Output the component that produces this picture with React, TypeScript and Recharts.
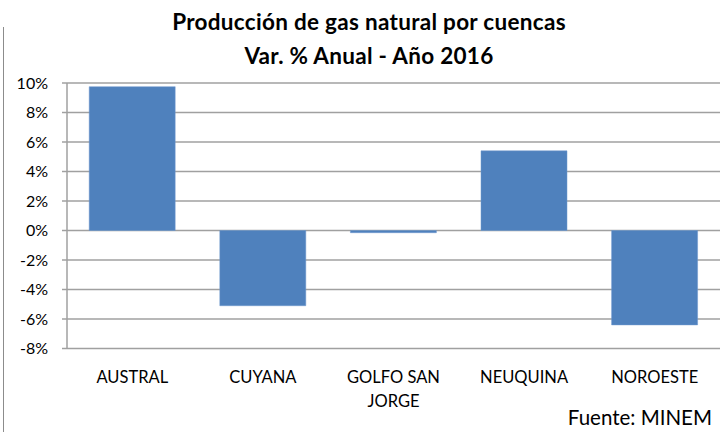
import React from "react";
import { BarChart, Bar, XAxis, YAxis, CartesianGrid } from "recharts";

const cuencas = ["AUSTRAL", "CUYANA", "GOLFO SAN JORGE", "NEUQUINA", "NOROESTE"];
const variacion = [9.75, -5.1, -0.15, 5.4, -6.4];
const yTicks = [-8, -6, -4, -2, 0, 2, 4, 6, 8, 10];

const data = cuencas.map((name, i) => ({ name, value: variacion[i] }));

const FONT = "Lato, 'Open Sans', sans-serif";

// splits "GOLFO SAN JORGE" onto two lines like the original
const CategoryTick = (props: any) => {
  const { x, y, payload } = props;
  const label: string = payload.value;
  const lines = label === "GOLFO SAN JORGE" ? ["GOLFO SAN", "JORGE"] : [label];
  return (
    <g>
      {lines.map((l, i) => (
        <text
          key={i}
          x={x}
          y={y + 26 + i * 24}
          textAnchor="middle"
          fontSize={16.5}
          fontFamily={FONT}
          fill="#000"
        >
          {l}
        </text>
      ))}
    </g>
  );
};

export default function App() {
  return (
    <div
      style={{
        position: "absolute",
        left: 0,
        top: 0,
        width: 720,
        height: 432,
        background: "#fff",
        fontFamily: FONT,
      }}
    >
      <div
        style={{
          position: "absolute",
          left: 3,
          top: 27,
          width: 0,
          height: 405,
          borderLeft: "1px solid #8c8c8c",
        }}
      />
      <div
        style={{
          position: "absolute",
          left: 0,
          width: 738,
          top: 5,
          textAlign: "center",
          fontWeight: "bold",
          fontSize: 22.5,
          letterSpacing: 0.3,
          lineHeight: "34px",
          color: "#000",
        }}
      >
        Producción de gas natural por cuencas
        <br />
        Var. % Anual - Año 2016
      </div>
      <BarChart
        width={720}
        height={432}
        data={data}
        margin={{ top: 83, right: 0, left: 0, bottom: 0 }}
        barCategoryGap="17%"
        style={{ position: "absolute", left: 0, top: 0 }}
      >
        <CartesianGrid vertical={false} stroke="#a0a0a0" strokeWidth={1.5} />
        <XAxis
          dataKey="name"
          height={83.5}
          axisLine={false}
          tickLine={false}
          interval={0}
          tick={<CategoryTick />}
        />
        <YAxis
          width={67}
          domain={[-8, 10]}
          ticks={yTicks}
          interval={0}
          tickFormatter={(v: number) => `${v}%`}
          axisLine={{ stroke: "#a0a0a0", strokeWidth: 1.5 }}
          tickLine={{ stroke: "#a0a0a0", strokeWidth: 1.5 }}
          tickSize={5}
          tickMargin={14}
          tick={{ fill: "#000", fontSize: 16, fontFamily: FONT }}
        />
        <Bar dataKey="value" fill="#4f81bd" stroke="#6f99cf" strokeWidth={0.5} isAnimationActive={false} />
      </BarChart>
      <div
        style={{
          position: "absolute",
          right: 8,
          top: 405,
          fontSize: 20.5,
          color: "#000",
        }}
      >
        Fuente: MINEM
      </div>
    </div>
  );
}
